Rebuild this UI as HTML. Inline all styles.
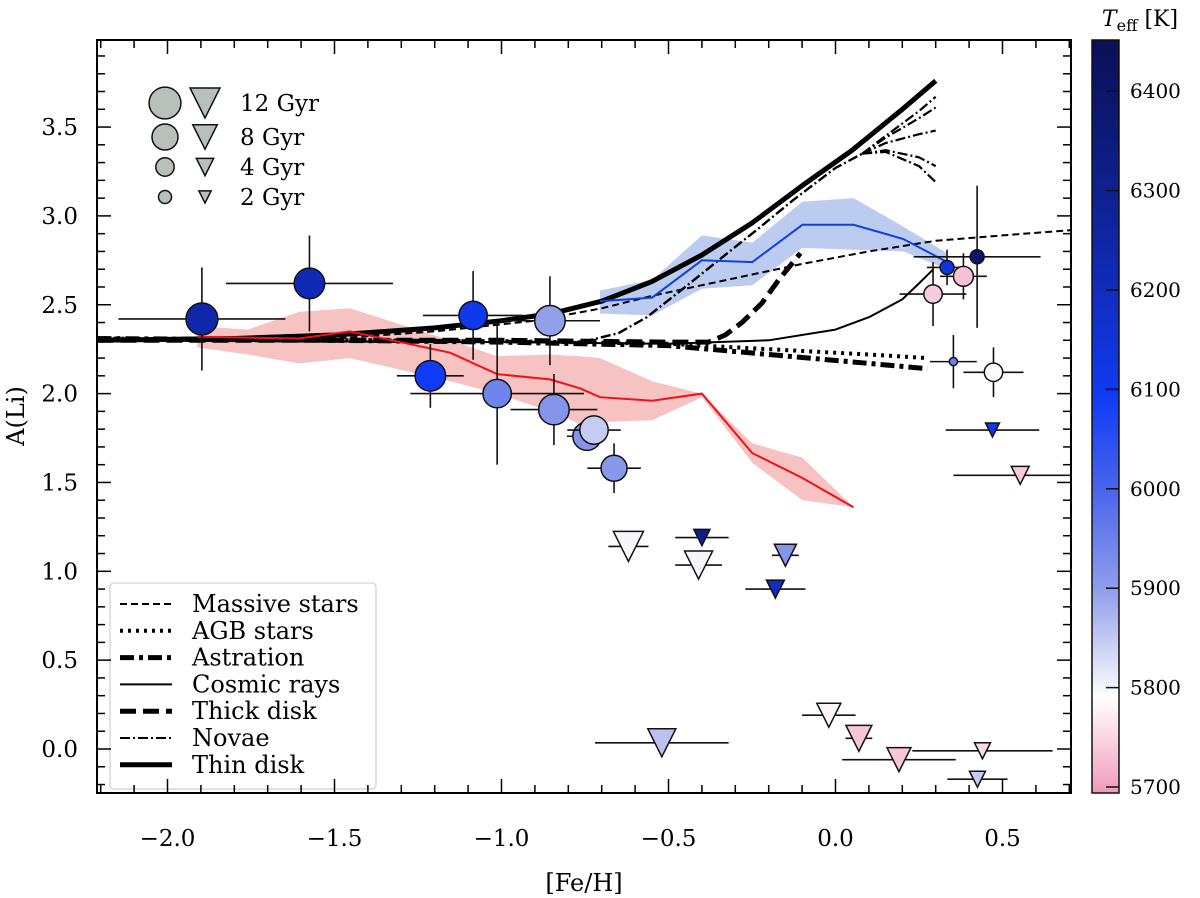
<!DOCTYPE html>
<html><head><meta charset="utf-8"><style>
html,body{margin:0;padding:0;background:#fff;}
svg{display:block;font-family:"DejaVu Serif","Liberation Serif",serif;}
</style></head><body>
<svg id="chart" width="1200" height="898" viewBox="0 0 1200 898" xmlns="http://www.w3.org/2000/svg">
<defs>
<clipPath id="pc"><rect x="97" y="40" width="974" height="753"/></clipPath>
<linearGradient id="cbg" x1="0" y1="1" x2="0" y2="0"></linearGradient>
</defs>
<g id="plot" clip-path="url(#pc)"></g>
<g id="axes"></g>
<g id="cbar"></g>
<text x="24" y="416" transform="rotate(-90 24 416)" text-anchor="middle" font-size="24">A(Li)</text>
<text x="584" y="891" text-anchor="middle" font-size="24">[Fe/H]</text>
<text x="1140" y="26" text-anchor="middle" font-size="22"><tspan font-style="italic">T</tspan><tspan font-size="16" dy="5">eff</tspan><tspan dy="-5"> [K]</tspan></text>
</svg>
<script>
// ---- data ----
const xTicks=[-2.0,-1.5,-1.0,-0.5,0.0,0.5];
const xTickLabels=["\u22122.0","\u22121.5","\u22121.0","\u22120.5","0.0","0.5"];
const yTicks=[0.0,0.5,1.0,1.5,2.0,2.5,3.0,3.5];
const yTickLabels=["0.0","0.5","1.0","1.5","2.0","2.5","3.0","3.5"];
const cbTicks=[5700,5800,5900,6000,6100,6200,6300,6400];

const thinX=[-2.21,-1.8,-1.5,-1.2,-1.0,-0.85,-0.7,-0.55,-0.4,-0.25,-0.1,0.05,0.2,0.3];
const thinY=[2.30,2.31,2.33,2.37,2.41,2.45,2.52,2.63,2.78,2.96,3.17,3.37,3.60,3.76];
const novaX=[-2.21,-1.0,-0.76,-0.65,-0.565,-0.45,-0.337,-0.23,-0.126,0.0,0.08];
const novaY=[2.30,2.29,2.29,2.34,2.43,2.60,2.77,2.93,3.09,3.27,3.35];
const novaBrX=[0.08,0.15,0.25,0.30];
const novaBr1=[3.35,3.45,3.59,3.67];
const novaBr2=[3.35,3.44,3.55,3.61];
const novaBr3=[3.35,3.41,3.46,3.48];
const novaBr4=[3.35,3.37,3.33,3.28];
const novaBr5=[3.35,3.36,3.28,3.19];
const massX=[-2.21,-1.5,-1.2,-0.9,-0.7,-0.55,-0.3,-0.1,0.1,0.3,0.5,0.707];
const massY=[2.30,2.31,2.35,2.41,2.48,2.55,2.65,2.73,2.80,2.86,2.89,2.92];
const thickX=[-2.21,-1.0,-0.5,-0.38,-0.33,-0.28,-0.22,-0.17,-0.105];
const thickY=[2.30,2.30,2.29,2.29,2.33,2.40,2.51,2.64,2.79];
const crX=[-2.21,-1.0,-0.5,-0.2,0.0,0.1,0.2,0.25,0.293];
const crY=[2.30,2.29,2.28,2.30,2.36,2.43,2.53,2.62,2.70];
const agbX=[-2.21,-1.5,-1.0,-0.5,-0.2,0.1,0.275];
const agbY=[2.31,2.30,2.295,2.28,2.25,2.22,2.20];
const astY=[2.31,2.30,2.29,2.27,2.22,2.17,2.14];

const blueX=[-0.705,-0.549,-0.40,-0.249,-0.099,0.054,0.203,0.334];
const blueY=[2.52,2.54,2.75,2.74,2.95,2.95,2.87,2.74];
const blueUp=[2.58,2.64,2.89,2.85,3.08,3.10,2.94,2.79];
const blueLo=[2.45,2.44,2.59,2.61,2.82,2.81,2.80,2.70];

const redX=[-1.911,-1.76,-1.606,-1.454,-1.154,-1.013,-0.855,-0.765,-0.705,-0.549,-0.40,-0.249,-0.099,0.054];
const redY=[2.32,2.315,2.31,2.35,2.23,2.11,2.08,2.03,1.98,1.96,2.00,1.665,1.525,1.36];
const redUp=[2.38,2.36,2.46,2.48,2.30,2.21,2.22,2.21,2.20,2.07,2.00,1.72,1.64,1.36];
const redLo=[2.26,2.22,2.17,2.20,2.07,2.00,1.90,1.83,1.84,1.85,1.98,1.61,1.40,1.36];

const starFe=[-1.897,-1.575,-1.085,-0.855,-1.213,-1.013,-0.843,-0.744,-0.723,-0.663,0.424,0.334,0.383,0.292,0.353,0.473];
const starLi=[2.42,2.62,2.44,2.41,2.10,2.00,1.91,1.76,1.795,1.58,2.77,2.71,2.66,2.56,2.18,2.12];
const starXerr=[0.25,0.25,0.15,0.15,0.10,0.26,0.13,0.06,0.08,0.08,0.19,0.06,0.07,0.10,0.07,0.09];
const starYerr=[0.29,0.27,0.25,0.25,0.18,0.40,0.20,0.08,0.08,0.14,0.40,0.10,0.13,0.18,0.15,0.14];
const starTeff=[6260,6230,6120,5900,6100,5950,5920,5920,5850,5915,6420,6150,5730,5740,5960,5795];
const starAge=[12,11,9.5,11,11,9.5,11,9.5,9.5,8,2.3,2.3,4.7,4,0.8,4];

const limFe=[-0.62,-0.40,-0.41,-0.15,-0.18,0.47,0.553,-0.52,-0.02,0.07,0.19,0.44,0.425];
const limLi=[1.14,1.19,1.035,1.09,0.90,1.795,1.54,0.035,0.19,0.06,-0.06,-0.01,-0.17];
const limXerr=[0.06,0.08,0.07,0.04,0.09,0.14,0.20,0.20,0.08,0.04,0.17,0.21,0.09];
const limTeff=[5800,6330,5800,5920,6200,6130,5740,5860,5780,5735,5735,5755,5850];
const limAge=[12,3.5,10.5,6.5,4.3,2.6,4.3,10.5,7.7,9,7.7,3.4,3.4];

const ageLabels=["12 Gyr","8 Gyr","4 Gyr","2 Gyr"];
const ageVals=[12,8,4,2];
const legendLabels=["Massive stars","AGB stars","Astration","Cosmic rays","Thick disk","Novae","Thin disk"];

// ---- scales ----
const X=v=>835.5+334*v, Y=v=>749-177.7*v;
const CB=t=>787-(t-5700)*0.994;
const NS="http://www.w3.org/2000/svg";
function mk(tag,attrs,parent){const e=document.createElementNS(NS,tag);for(const k in attrs)e.setAttribute(k,attrs[k]);parent.appendChild(e);return e;}
const stops=[[5692,[240,154,186]],[5790,[255,255,255]],[5850,[196,204,242]],[5900,[146,160,234]],[6000,[78,104,236]],[6100,[16,60,245]],[6200,[16,46,196]],[6300,[14,34,150]],[6474,[10,16,85]]];
function cmap(t){if(t<=stops[0][0])return rgb(stops[0][1]);for(let i=1;i<stops.length;i++){if(t<=stops[i][0]){const a=stops[i-1],b=stops[i],f=(t-a[0])/(b[0]-a[0]);return rgb(a[1].map((c,j)=>Math.round(c+(b[1][j]-c)*f)));}}return rgb(stops[stops.length-1][1]);}
function rgb(c){return "rgb("+c.join(",")+")";}
const plot=document.getElementById('plot'),axes=document.getElementById('axes'),cbar=document.getElementById('cbar');
function pts(xs,ys){return xs.map((x,i)=>X(x).toFixed(1)+","+Y(ys[i]).toFixed(1)).join(" ");}
function band(xs,up,lo){return pts(xs,up)+" "+pts(xs.slice().reverse(),lo.slice().reverse());}

let e;
e=mk('polygon',{points:band(redX,redUp,redLo),fill:'#f4a8a8','fill-opacity':0.7},plot);


e=mk('polygon',{points:band(blueX,blueUp,blueLo),fill:'#98b0ea','fill-opacity':0.65},plot);


function line(xs,ys,w,dash){return mk('polyline',{points:pts(xs,ys),fill:'none',stroke:'#000','stroke-width':w,'stroke-dasharray':dash||'none','stroke-linejoin':'round'},plot);}
e=line(massX,massY,2,'7,4');


e=line(agbX,agbY,4,'3,5');


e=line(agbX,astY,5,'14,5,4,5');


e=line(crX,crY,2,null);


e=line(thickX,thickY,5,'16,7');


e=line(novaX,novaY,2.4,'10,3,2,3');


[novaBr1,novaBr2,novaBr3,novaBr4,novaBr5].forEach(b=>{
 const l=line(novaBrX,b,2.2,'10,3,2,3');
 
 
});
e=line(thinX,thinY,5,null);


e=mk('polyline',{points:pts(redX,redY),fill:'none',stroke:'#f0101a','stroke-width':2},plot);


e=mk('polyline',{points:pts(blueX,blueY),fill:'none',stroke:'#1040e0','stroke-width':2},plot);



const rC=a=>4.6*Math.sqrt(a), sT=a=>4.33*Math.sqrt(a);
starFe.forEach((fe,i)=>{
 const g=mk('g',{},plot);
 
 
 mk('line',{x1:X(fe-starXerr[i]),x2:X(fe+starXerr[i]),y1:Y(starLi[i]),y2:Y(starLi[i]),stroke:'#111','stroke-width':1.6},g);
 mk('line',{x1:X(fe),x2:X(fe),y1:Y(starLi[i]-starYerr[i]),y2:Y(starLi[i]+starYerr[i]),stroke:'#111','stroke-width':1.6},g);
 mk('circle',{cx:X(fe),cy:Y(starLi[i]),r:rC(starAge[i]),fill:cmap(starTeff[i]),stroke:'#111','stroke-width':1.5},g);
});
limFe.forEach((fe,i)=>{
 const g=mk('g',{},plot);
 
 
 const cx=X(fe),cy=Y(limLi[i]),s=sT(limAge[i]);
 mk('line',{x1:X(fe-limXerr[i]),x2:X(fe+limXerr[i]),y1:cy,y2:cy,stroke:'#111','stroke-width':1.6},g);
 mk('polygon',{points:`${cx-s},${cy-s} ${cx+s},${cy-s} ${cx},${cy+s}`,fill:cmap(limTeff[i]),stroke:'#111','stroke-width':1.5},g);
});

ageVals.forEach((a,i)=>{
 const cy=[103,137,167,197][i];
 const g=mk('g',{},axes);
 
 
 mk('circle',{cx:165,cy:cy,r:rC(a),fill:'#b8c0bc',stroke:'#111','stroke-width':1.5},g);
 const s=sT(a);
 mk('polygon',{points:`${205-s},${cy-s} ${205+s},${cy-s} 205,${cy+s}`,fill:'#b8c0bc',stroke:'#111','stroke-width':1.5},g);
 const t=mk('text',{x:240,y:cy+8,'font-size':23},g);t.textContent=ageLabels[i];
});

const lg=mk('g',{},axes);


mk('rect',{x:110,y:583,width:266,height:206,rx:4,fill:'#fff','fill-opacity':0.85,stroke:'#d4dcd8','stroke-width':1.5},lg);
const lgStyles=[[2,'7,4'],[4,'3,5'],[5,'14,5,4,5'],[2,'none'],[5,'16,7'],[2,'10,3,2,3'],[5,'none']];
legendLabels.forEach((lab,i)=>{
 const cy=604+i*26.8;
 const g=mk('g',{},lg);
 
 
 mk('line',{x1:120,x2:172,y1:cy,y2:cy,stroke:'#000','stroke-width':lgStyles[i][0],'stroke-dasharray':lgStyles[i][1]},g);
 const t=mk('text',{x:192,y:cy+8,'font-size':24},g);t.textContent=lab;
});

e=mk('rect',{x:97,y:40,width:974,height:753,fill:'none',stroke:'#000','stroke-width':2},axes);


for(let k=-22;k<=7;k++){const v=k/10,px=X(v);if(px<97||px>1071)continue;const L=(k%5===0)?14:8;
 mk('line',{x1:px,x2:px,y1:793,y2:793-L,stroke:'#000','stroke-width':1.5},axes);
 mk('line',{x1:px,x2:px,y1:40,y2:40+L,stroke:'#000','stroke-width':1.5},axes);}
for(let k=-2;k<=39;k++){const v=k/10,py=Y(v);if(py<40||py>793)continue;const L=(k%5===0)?14:8;
 mk('line',{x1:97,x2:97+L,y1:py,y2:py,stroke:'#000','stroke-width':1.5},axes);
 mk('line',{x1:1071,x2:1071-L,y1:py,y2:py,stroke:'#000','stroke-width':1.5},axes);}
xTicks.forEach((v,i)=>{const t=mk('text',{x:X(v),y:846,'text-anchor':'middle','font-size':23},axes);
 
 
 t.textContent=xTickLabels[i];});
yTicks.forEach((v,i)=>{const t=mk('text',{x:78,y:Y(v)+8,'text-anchor':'end','font-size':23},axes);
 
 
 t.textContent=yTickLabels[i];});

const grad=document.getElementById('cbg');
const t0=5692,t1=6474;
for(let t=t0;t<=t1;t+=10){mk('stop',{offset:((t-t0)/(t1-t0)).toFixed(4),'stop-color':cmap(t)},grad);}
e=mk('rect',{x:1092,y:40,width:27,height:753,fill:'url(#cbg)',stroke:'#111','stroke-width':1.5},cbar);


cbTicks.forEach(t=>{const py=CB(t);
 mk('line',{x1:1119,x2:1106,y1:py,y2:py,stroke:'#111','stroke-width':1.5},cbar);
 const tx=mk('text',{x:1130,y:py+7,'font-size':20},cbar);
 
 
 tx.textContent=String(t);});
</script>
</body></html>
